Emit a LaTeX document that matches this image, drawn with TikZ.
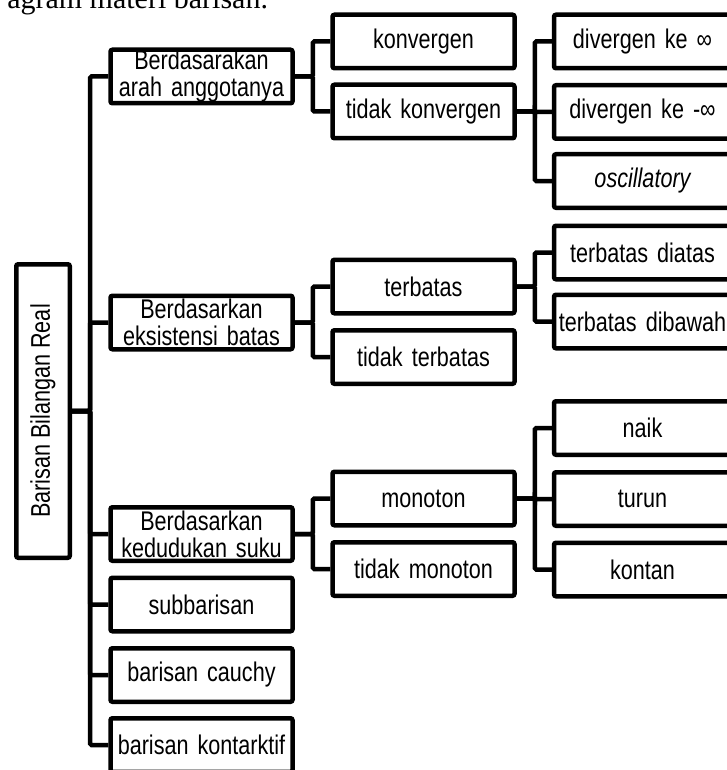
\documentclass[tikz,border=0pt]{standalone}
\usepackage{fontspec}
\setmainfont[FakeStretch=0.8]{Liberation Sans}
\newfontfamily\captionFont{Liberation Serif}
\usepackage{tikz}
\newcommand{\boxLine}[0]{4.5pt}
\newcommand{\forkGap}[0]{18}

\begin{document}
\begin{tikzpicture}[x=1pt, y=-1pt, line width=\boxLine]
  \tikzset{
    item/.style={draw, rounded corners=2pt, align=center, inner xsep=2pt, inner ysep=0pt,
      text width=178pt, minimum height=53.5pt, font=\fontsize{27}{27}\selectfont},
    leaf/.style={item, text width=173pt},
    rootbox/.style={draw, rounded corners=2pt, inner sep=0pt, minimum width=53.5pt,
      minimum height=293.5pt, font=\fontsize{27}{27}\selectfont},
    fork/.style={draw, rounded corners=1.5pt}
  }
  \useasboundingbox (0,0) rectangle (727,770);
  \node[anchor=base west, inner sep=0pt, font=\captionFont\fontsize{30}{30}\selectfont] (caption) at (5,8.5) {agram materi barisan.};
  \node[rootbox] (ROOT) at (43,411) {\rotatebox{90}{Barisan Bilangan Real}};
  \node[item] (CAT-1) at (201.5,76.5) {Berdasarakan\\arah anggotanya};
  \node[item] (CAT-2) at (201.5,322.5) {Berdasarkan\\eksistensi batas};
  \node[item] (CAT-3) at (201.5,534) {Berdasarkan\\kedudukan suku};
  \node[item] (CAT-4) at (201.5,604.5) {subbarisan};
  \node[item] (CAT-5) at (201.5,675) {barisan cauchy};
  \node[item] (CAT-6) at (201.5,745) {barisan kontarktif};
  \node[item] (SUB-1-1) at (423.5,41.5) {konvergen};
  \node[item] (SUB-1-2) at (423.5,111.5) {tidak konvergen};
  \node[item] (SUB-2-1) at (423.5,286.5) {terbatas};
  \node[item] (SUB-2-2) at (423.5,357) {tidak terbatas};
  \node[item] (SUB-3-1) at (423.5,498.5) {monoton};
  \node[item] (SUB-3-2) at (423.5,569) {tidak monoton};
  \node[leaf] (LEAF-1-2-1) at (642.5,41.5) {divergen ke ∞};
  \node[leaf] (LEAF-1-2-2) at (642.5,112) {divergen ke -∞};
  \node[leaf] (LEAF-1-2-3) at (642.5,181) {\itshape oscillatory};
  \node[leaf] (LEAF-2-1-1) at (642.5,252.5) {terbatas diatas};
  \node[leaf] (LEAF-2-1-2) at (642.5,321.5) {terbatas dibawah};
  \node[leaf] (LEAF-3-1-1) at (642.5,428) {naik};
  \node[leaf] (LEAF-3-1-2) at (642.5,499) {turun};
  \node[leaf] (LEAF-3-1-3) at (642.5,569.5) {kontan};
  \path[fork] (ROOT.east) -- ++(\forkGap,0) |- (CAT-1.west);
  \path[fork] (ROOT.east) -- ++(\forkGap,0) |- (CAT-2.west);
  \path[fork] (ROOT.east) -- ++(\forkGap,0) |- (CAT-3.west);
  \path[fork] (ROOT.east) -- ++(\forkGap,0) |- (CAT-4.west);
  \path[fork] (ROOT.east) -- ++(\forkGap,0) |- (CAT-5.west);
  \path[fork] (ROOT.east) -- ++(\forkGap,0) |- (CAT-6.west);
  \path[fork] (CAT-1.east) -- ++(\forkGap,0) |- (SUB-1-1.west);
  \path[fork] (CAT-1.east) -- ++(\forkGap,0) |- (SUB-1-2.west);
  \path[fork] (CAT-2.east) -- ++(\forkGap,0) |- (SUB-2-1.west);
  \path[fork] (CAT-2.east) -- ++(\forkGap,0) |- (SUB-2-2.west);
  \path[fork] (CAT-3.east) -- ++(\forkGap,0) |- (SUB-3-1.west);
  \path[fork] (CAT-3.east) -- ++(\forkGap,0) |- (SUB-3-2.west);
  \path[fork] (SUB-1-2.east) -- ++(\forkGap,0) |- (LEAF-1-2-1.west);
  \path[fork] (SUB-1-2.east) -- ++(\forkGap,0) |- (LEAF-1-2-2.west);
  \path[fork] (SUB-1-2.east) -- ++(\forkGap,0) |- (LEAF-1-2-3.west);
  \path[fork] (SUB-2-1.east) -- ++(\forkGap,0) |- (LEAF-2-1-1.west);
  \path[fork] (SUB-2-1.east) -- ++(\forkGap,0) |- (LEAF-2-1-2.west);
  \path[fork] (SUB-3-1.east) -- ++(\forkGap,0) |- (LEAF-3-1-1.west);
  \path[fork] (SUB-3-1.east) -- ++(\forkGap,0) |- (LEAF-3-1-2.west);
  \path[fork] (SUB-3-1.east) -- ++(\forkGap,0) |- (LEAF-3-1-3.west);
\end{tikzpicture}
\end{document}
